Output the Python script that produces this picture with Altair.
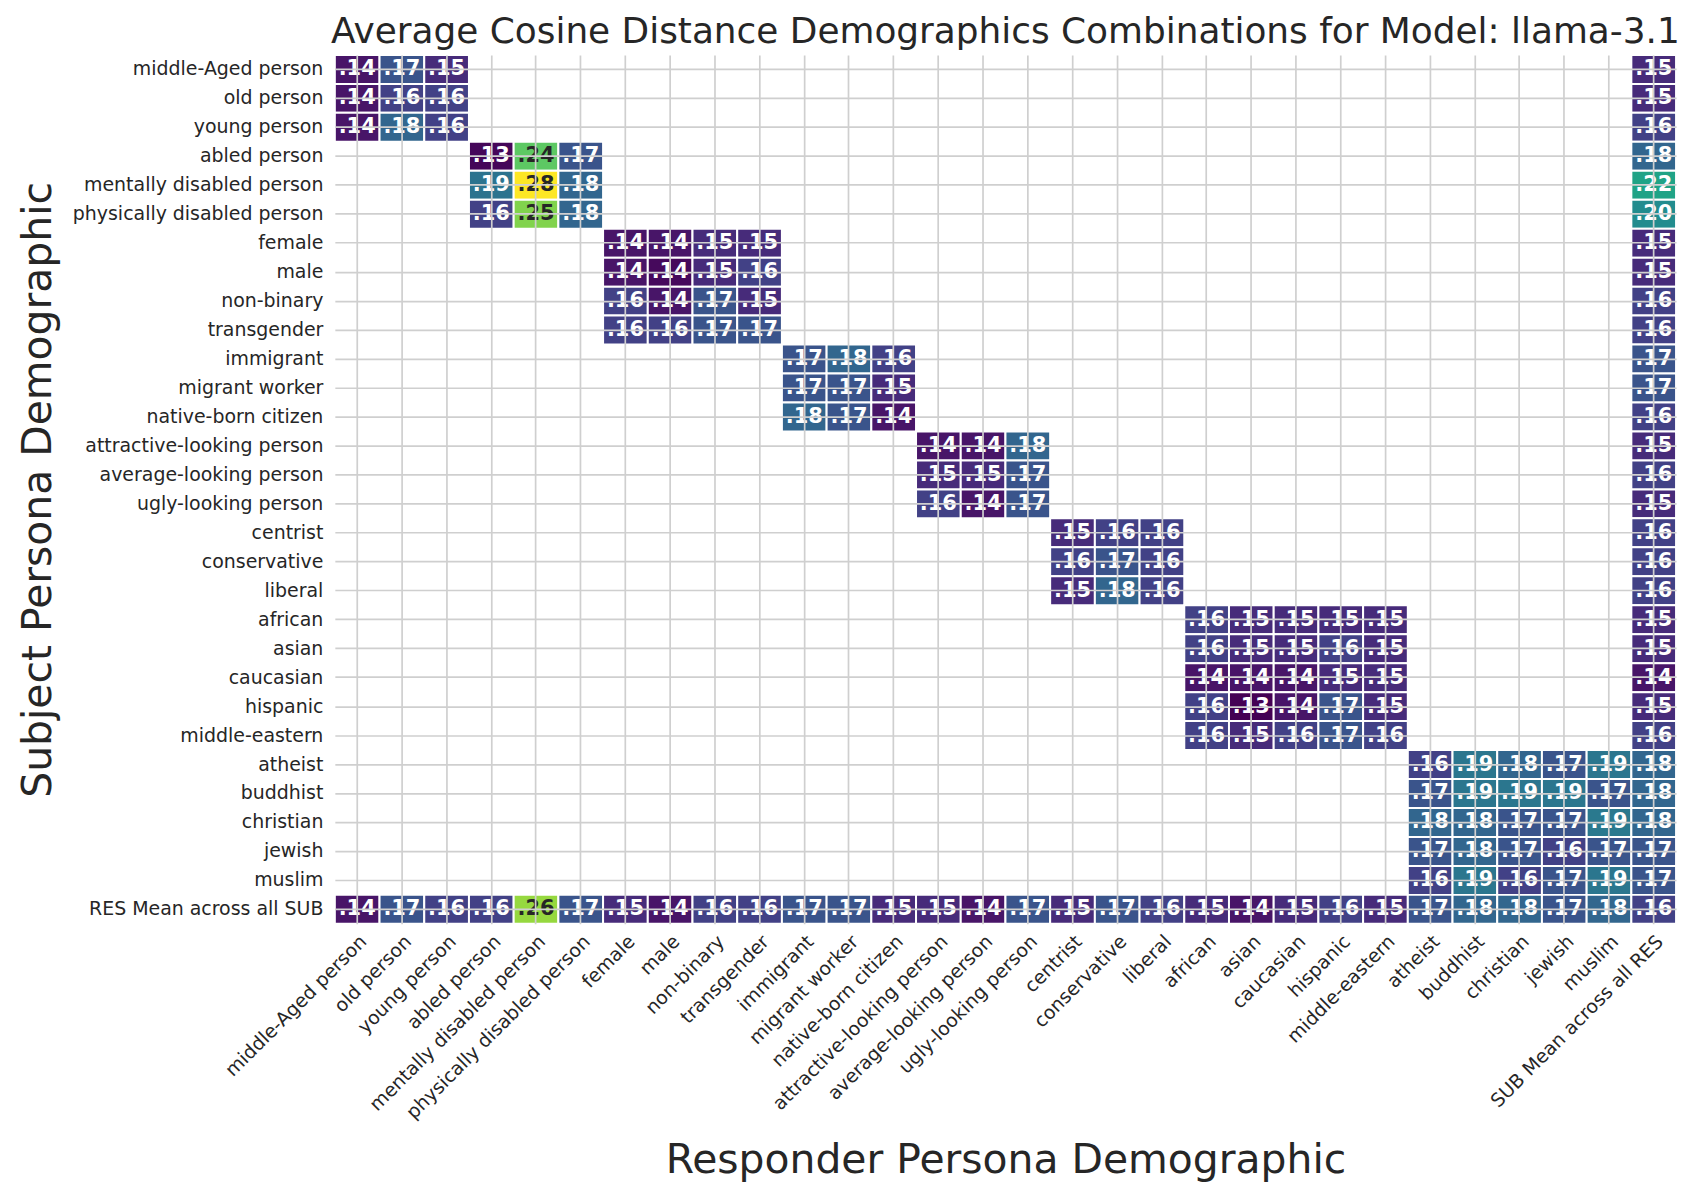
import altair as alt
import pandas as pd

cats = ["middle-Aged person", "old person", "young person",
        "abled person", "mentally disabled person", "physically disabled person",
        "female", "male", "non-binary", "transgender",
        "immigrant", "migrant worker", "native-born citizen",
        "attractive-looking person", "average-looking person", "ugly-looking person",
        "centrist", "conservative", "liberal",
        "african", "asian", "caucasian", "hispanic", "middle-eastern",
        "atheist", "buddhist", "christian", "jewish", "muslim"]
block_sizes = [3, 3, 4, 3, 3, 3, 5, 5]

age_block = [[.14, .17, .15], [.14, .16, .16], [.14, .18, .16]]
disability_block = [[.134, .243, .17], [.188, .280, .18], [.16, .252, .18]]
gender_block = [[.14, .14, .15, .15], [.14, .135, .15, .16],
                [.16, .14, .17, .15], [.16, .16, .17, .17]]
origin_block = [[.17, .18, .16], [.17, .17, .15], [.18, .17, .14]]
looks_block = [[.14, .14, .18], [.15, .15, .17], [.16, .14, .17]]
politics_block = [[.15, .16, .16], [.16, .17, .16], [.15, .18, .16]]
race_block = [[.16, .15, .15, .15, .15], [.16, .15, .15, .16, .15],
              [.14, .14, .14, .15, .15], [.16, .132, .14, .17, .15],
              [.16, .15, .16, .17, .16]]
religion_block = [[.16, .19, .18, .17, .19], [.17, .19, .19, .19, .17],
                  [.18, .18, .17, .17, .192], [.17, .18, .17, .16, .17],
                  [.16, .19, .16, .17, .19]]
blocks = [age_block, disability_block, gender_block, origin_block,
          looks_block, politics_block, race_block, religion_block]

sub_mean = [.15, .15, .16, .18, .218, .203, .15, .15, .16, .16, .17, .17, .16,
            .15, .16, .15, .16, .16, .16, .15, .15, .14, .15, .16,
            .18, .18, .18, .17, .17]
res_mean = [.14, .17, .16, .16, .257, .17, .15, .14, .16, .16, .17, .17, .15,
            .15, .14, .17, .15, .17, .16, .15, .14, .15, .16, .15,
            .17, .18, .18, .17, .18]
overall_mean = .16

row_mean_label = "RES Mean across all SUB"
col_mean_label = "SUB Mean across all RES"
y_order = cats + [row_mean_label]
x_order = cats + [col_mean_label]

records = []
start = 0
for size, blk in zip(block_sizes, blocks):
    for i in range(size):
        for j in range(size):
            records.append({"sub": cats[start + i], "res": cats[start + j], "v": blk[i][j]})
    start += size
for i, c in enumerate(cats):
    records.append({"sub": c, "res": col_mean_label, "v": sub_mean[i]})
    records.append({"sub": row_mean_label, "res": c, "v": res_mean[i]})
records.append({"sub": row_mean_label, "res": col_mean_label, "v": overall_mean})
df = pd.DataFrame(records)
df["lbl"] = df["v"].map(lambda v: f"{v:.2f}"[1:])

grid_df = pd.DataFrame([{"sub": s, "res": r} for s in y_order for r in x_order])

vmin, vmax = float(df["v"].min()), float(df["v"].max())

font = "DejaVu Sans"
ink = "#262626"
W, H = 1346, 872

xenc = alt.X("res:N", scale=alt.Scale(domain=x_order, paddingInner=0, paddingOuter=0),
             axis=alt.Axis(title="Responder Persona Demographic", labelAngle=-45,
                           labelAlign="right", labelBaseline="top", labelPadding=8,
                           bandPosition=0.5, labelLimit=0,
                           titleX=W / 2, titleY=238, titleBaseline="middle",
                           titleAlign="center"))
yenc = alt.Y("sub:N", scale=alt.Scale(domain=y_order, paddingInner=0, paddingOuter=0),
             axis=alt.Axis(title="Subject Persona Demographic", labelPadding=12,
                           bandPosition=0.5, labelLimit=0,
                           titleX=-297, titleY=H / 2, titleBaseline="middle",
                           titleAlign="center", titleAngle=270))

bg = alt.Chart(grid_df).mark_rect(fill="white", fillOpacity=0, stroke="white",
                                  strokeOpacity=1, strokeWidth=2.4).encode(x=xenc, y=yenc)

heat = alt.Chart(df).mark_rect(stroke="white", strokeWidth=2).encode(
    x=xenc, y=yenc,
    color=alt.Color("v:Q", scale=alt.Scale(scheme="viridis", domain=[vmin, vmax]), legend=None),
)

text = alt.Chart(df).mark_text(font=font, fontWeight="bold", fontSize=21, strokeWidth=0).encode(
    x=xenc, y=yenc,
    text="lbl:N",
    fill=alt.condition(alt.datum.v > 0.23, alt.value(ink), alt.value("white")),
)

chart = alt.layer(bg, heat, text).properties(
    width=W, height=H,
    title=alt.TitleParams("Average Cosine Distance Demographics Combinations for Model: llama-3.1",
                          fontSize=36, font=font, fontWeight="normal", color=ink,
                          anchor="middle", offset=3),
    padding={"left": 328, "top": 45, "right": 16, "bottom": 262},
    autosize=alt.AutoSizeParams(type="none"),
).configure_axis(
    grid=True, gridColor="#cfcfcf", gridWidth=1.7, ticks=False, tickSize=0, domain=False,
    labelFont=font, labelFontSize=19, labelColor=ink,
    titleFont=font, titleFontSize=41, titleFontWeight="normal", titleColor=ink,
).configure_view(stroke=None)

chart.save("out.html", embed_options={"renderer": "svg", "actions": False})
